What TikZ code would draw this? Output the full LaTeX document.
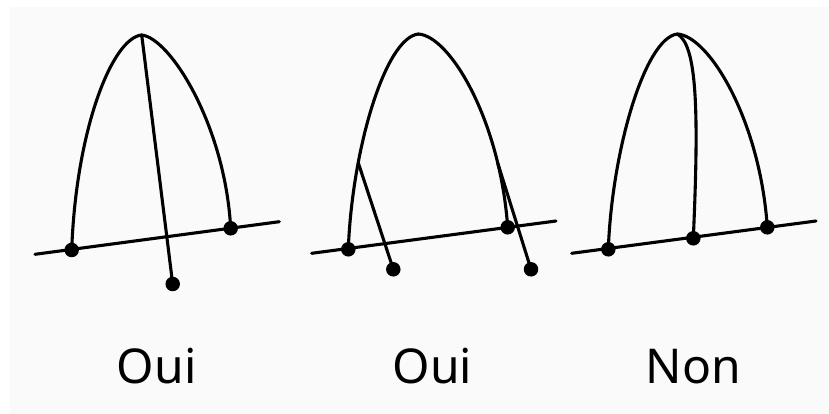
\documentclass[tikz,border=0pt]{standalone}
\usepackage{fontspec}
\setmainfont{Noto Sans}
\begin{document}
\begin{tikzpicture}[x=1pt,y=-1pt,
  curve/.style={line width=3.1pt,line cap=round,line join=round},
  dot/.style={circle,fill=black,inner sep=0pt,minimum size=14.5pt},
  lbl/.style={anchor=base,font=\fontsize{48}{58}\selectfont,inner sep=0pt}]
\useasboundingbox (0,0) rectangle (829,414);
\fill[white] (0,0) rectangle (829,414);
\fill[black!2] (10,7) rectangle (829,414);
% ---- panel 1
\coordinate (a1) at (141.7,35);
\node[dot] (l1) at (71.7,250) {};
\node[dot] (r1) at (230.7,228.3) {};
\node[dot] (s1) at (172.7,284) {};
\coordinate (e1a) at (35,254.3);
\coordinate (e1b) at (279.3,221.7);
\draw[curve] (e1a) -- (e1b);
\draw[curve] (l1.center) .. controls (76,130) and (112,38) .. (a1)
  .. controls (170,38) and (225,125) .. (r1.center);
\draw[curve] (a1) -- (s1.center);
% ---- panel 2
\coordinate (a2) at (418.3,34);
\node[dot] (l2) at (348.3,249.3) {};
\node[dot] (r2) at (507.7,227.3) {};
\node[dot] (s2a) at (393.3,269.3) {};
\node[dot] (s2b) at (531,269.3) {};
\coordinate (e2a) at (311.7,253.3);
\coordinate (e2b) at (556,221);
\draw[curve] (e2a) -- (e2b);
\draw[curve] (l2.center) .. controls (352,150) and (385,38) .. coordinate[pos=0.29] (b2a) (a2);
\draw[curve] (a2) .. controls (450,36) and (500,120) .. coordinate[pos=0.79] (b2b) (r2.center);
\draw[curve] (b2a) -- (s2a.center);
\draw[curve] (b2b) -- (s2b.center);
% ---- panel 3
\coordinate (a3) at (677.3,34);
\node[dot] (l3) at (608.3,249.3) {};
\node[dot] (m3) at (693.3,238.3) {};
\node[dot] (r3) at (767.3,227.3) {};
\coordinate (e3a) at (571.7,253.3);
\coordinate (e3b) at (816,221);
\draw[curve] (e3a) -- (e3b);
\draw[curve] (l3.center) .. controls (612,150) and (645,38) .. (a3)
  .. controls (709,36) and (760,120) .. (r3.center);
\draw[curve] (a3) .. controls (697,45) and (699,110) .. (m3.center);
% ---- labels
\node[lbl] (t1) at (156.7,383) {Oui};
\node[lbl] (t2) at (432.5,383) {Oui};
\node[lbl] (t3) at (693.3,383) {Non};
\end{tikzpicture}
\end{document}
